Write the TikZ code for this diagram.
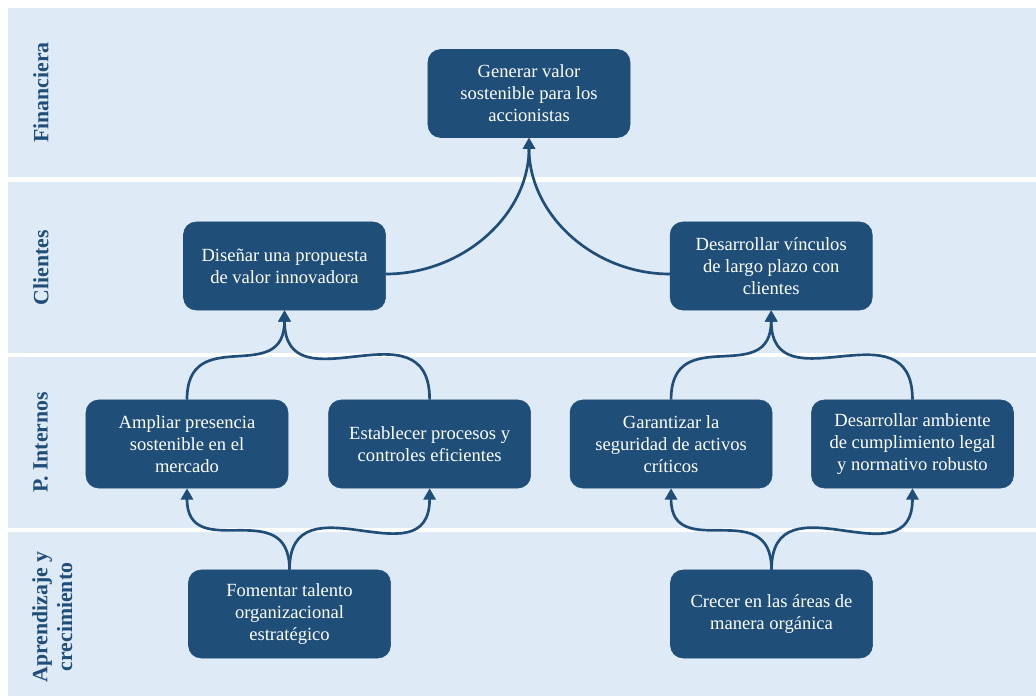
\documentclass[tikz,border=0pt]{standalone}
\usepackage{fontspec}
\setmainfont{Liberation Serif}
\usetikzlibrary{arrows.meta, positioning}
\definecolor{cBand}{RGB}{222,234,246}
\definecolor{cNode}{RGB}{31,78,121}
\tikzset{
	band/.style     ={fill=cBand},
	bandlabel/.style={rotate=90, anchor=north, inner sep=0pt, align=center, text=cNode, font=\fontsize{15.5}{17.5}\selectfont\bfseries},
	obj/.style      ={rectangle, rounded corners=9pt, minimum width=5.05cm, minimum height=2.2cm, align=center, draw=cNode, fill=cNode, text=white, font=\fontsize{13.2}{15.6}\selectfont},
	link/.style     ={-{Triangle[length=2.8mm, width=3mm]}, line width=1.9pt, draw=cNode},
}
\begin{document}
\begin{tikzpicture}[x=0.025cm, y=-0.025cm]
	\useasboundingbox (0,0) rectangle (1036,697);
	\fill[band] (8,8) rectangle (1036,177);
	\fill[band] (8,182) rectangle (1036,353);
	\fill[band] (8,357) rectangle (1036,528);
	\fill[band] (8,532) rectangle (1036,696);
	\node[bandlabel] (lfin) at (33,92.5) {Financiera};
	\node[bandlabel] (lcli) at (33,267.5) {Clientes};
	\node[bandlabel] (lint) at (33,442.5) {P. Internos};
	\node[bandlabel] (lapr) at (32,617) {Aprendizaje y\\ crecimiento};
	\node[obj] (fin) at (529,93.5) {Generar valor\\ sostenible para los\\ accionistas};
	\node[obj] (cliA) at (284.5,266) {Diseñar una propuesta\\ de valor innovadora};
	\node[obj, right=7.1cm of cliA] (cliB) {Desarrollar vínculos\\ de largo plazo con\\ clientes};
	\node[obj] (intA) at (187,444) {Ampliar presencia\\ sostenible en el\\ mercado};
	\node[obj, right=1cm of intA] (intB) {Establecer procesos y\\ controles eficientes};
	\node[obj, right=0.97cm of intB] (intC) {Garantizar la\\ seguridad de activos\\ críticos};
	\node[obj, right=0.97cm of intC] (intD) {Desarrollar ambiente\\ de cumplimiento legal\\ y normativo robusto};
	\node[obj] (aprA) at (289.5,614) {Fomentar talento\\ organizacional\\ estratégico};
	\node[obj] (aprB) at (771.5,614) {Crecer en las áreas de\\ manera orgánica};
	\draw[link] ([yshift=-0.2cm]cliA.east) to[out=0, in=-90] (fin.south);
	\draw[link] ([yshift=-0.2cm]cliB.west) to[out=180, in=-90] (fin.south);
	\draw[link] (intA.north) to[out=90, in=-90, looseness=1.5] (cliA.south);
	\draw[link] (intB.north) to[out=90, in=-90, looseness=1.5] (cliA.south);
	\draw[link] (intC.north) to[out=90, in=-90, looseness=1.5] (cliB.south);
	\draw[link] (intD.north) to[out=90, in=-90, looseness=1.5] (cliB.south);
	\draw[link] (aprA.north) to[out=90, in=-90, looseness=1.5] (intA.south);
	\draw[link] (aprA.north) to[out=90, in=-90, looseness=1.5] (intB.south);
	\draw[link] (aprB.north) to[out=90, in=-90, looseness=1.5] (intC.south);
	\draw[link] (aprB.north) to[out=90, in=-90, looseness=1.5] (intD.south);
\end{tikzpicture}
\end{document}
